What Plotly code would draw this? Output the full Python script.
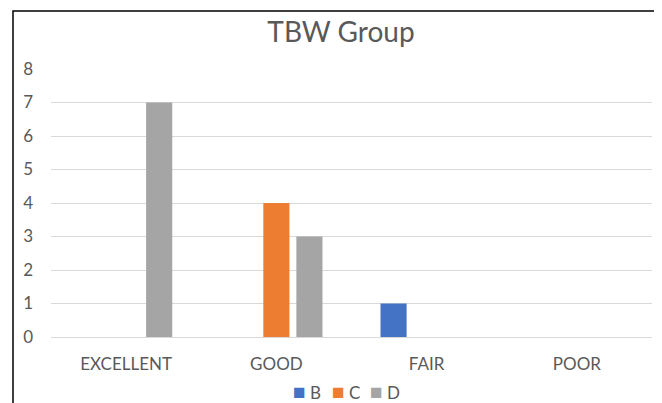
import plotly.graph_objects as go

categories = ["EXCELLENT", "GOOD", "FAIR", "POOR"]
series_names = ["B", "C", "D"]
values_b = [0, 0, 1, 0]
values_c = [0, 4, 0, 0]
values_d = [7, 3, 0, 0]
colors = ["#4472C4", "#ED7D31", "#A5A5A5"]

FONT = "Lato"
TXT = "#595959"

OFF = 8  # page body margin
W, H = 662 - OFF, 403 - OFF
L, R, T, B = 51 - OFF, 10, 69 - OFF, 66
pw = W - L - R
ph = H - T - B

fig = go.Figure()
for name, vals, col in zip(series_names, [values_b, values_c, values_d], colors):
    fig.add_trace(go.Bar(x=categories, y=vals, name=name, showlegend=False,
                         marker=dict(color=col, line=dict(width=0))))

def px_x(x):
    return (x - OFF - L) / pw

def px_y(y):
    return (H - B - (y - OFF)) / ph

legend_x = [291, 330, 368]
annotations = []
for name, col, lx in zip(series_names, colors, legend_x):
    annotations.append(dict(xref="paper", yref="paper", x=px_x(lx), y=px_y(390),
                            xanchor="left", yanchor="middle", showarrow=False,
                            text=f"<span style='color:{col};font-size:21px'>■</span> {name}",
                            font=dict(family=FONT, size=17, color=TXT)))

fig.update_layout(
    width=W, height=H,
    margin=dict(l=L, r=R, t=T, b=B),
    paper_bgcolor="white", plot_bgcolor="white",
    barmode="group", bargap=0.34, bargroupgap=0.21,
    font=dict(family=FONT, color=TXT, size=17),
    title=dict(text="TBW Group", x=(341 - OFF) / W, xanchor="center", xref="container",
               y=1 - (32 - OFF) / H, yanchor="middle", yref="container",
               font=dict(family=FONT, size=28, color=TXT)),
    showlegend=False,
    xaxis=dict(showgrid=False, showline=False, zeroline=False, ticks="", automargin=False,
               tickfont=dict(size=17, color=TXT), ticklabelstandoff=15, fixedrange=True),
    yaxis=dict(range=[0, 8], dtick=1, showgrid=True, gridcolor="#D9D9D9", gridwidth=1,
               zeroline=True, zerolinecolor="#D9D9D9", zerolinewidth=1, showline=False,
               automargin=False,
               ticks="", tickfont=dict(size=17, color=TXT), ticklabelstandoff=17, fixedrange=True),
    annotations=annotations,
    shapes=[dict(type="rect", xref="paper", yref="paper",
                 x0=px_x(13), x1=px_x(655), y0=px_y(420), y1=px_y(11),
                 line=dict(color="#000000", width=1.5), fillcolor="rgba(0,0,0,0)", layer="above")],
)

fig.write_html("out.html")
